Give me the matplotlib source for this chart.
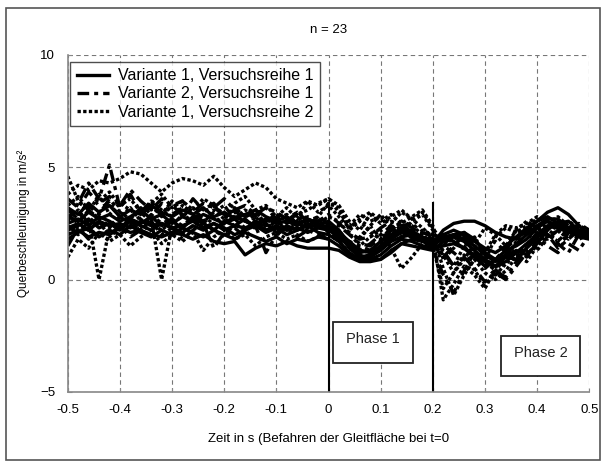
import numpy as np
import matplotlib
matplotlib.use("Agg")
import matplotlib.pyplot as plt
from matplotlib.patches import Rectangle

plt.rcParams['font.family'] = ['Liberation Sans', 'DejaVu Sans']

# ---------------------------------------------------------------------------
# data read off the scan (sampled every 0.02 s)
# ---------------------------------------------------------------------------
t = np.round(np.arange(-0.5, 0.5001, 0.02), 2)

# Variante 1, Versuchsreihe 1 (solid)
v1r1 = [
    [2.3, 2.5, 2.2, 2.6, 2.4, 2.5, 2.3, 2.6, 2.4, 2.5, 2.3, 2.4, 2.6, 2.3, 2.5, 2.2, 2.4, 2.3, 2.5, 2.2, 2.4,
     2.2, 2.3, 2.1, 2.3, 2.2, 1.9, 1.5, 1.1, 0.9, 0.9, 1.2, 1.6, 1.8, 1.7, 1.6,
     2.2, 2.5, 2.6, 2.6, 2.4, 2.1, 1.9, 1.8, 2.2, 2.6, 3.0, 3.2, 2.9, 2.4, 1.9],
    [2.0, 2.2, 1.9, 2.1, 2.0, 2.3, 2.1, 2.2, 2.0, 1.9, 2.1, 2.0, 1.8, 2.0, 1.7, 1.6, 1.7, 1.1, 1.4, 1.6, 1.5,
     1.7, 1.5, 1.4, 1.4, 1.4, 1.3, 1.0, 0.8, 0.8, 0.9, 1.3, 1.6, 1.5, 1.4, 1.3,
     1.7, 1.9, 1.7, 1.3, 0.9, 0.6, 1.0, 1.3, 1.1, 1.6, 2.2, 2.6, 2.3, 2.0, 1.9],
    [2.8, 2.6, 3.0, 2.7, 2.9, 2.6, 2.8, 3.1, 2.7, 2.9, 2.5, 2.8, 2.6, 2.9, 2.7, 2.5, 2.8, 2.6, 2.4, 2.7, 2.5,
     2.6, 2.4, 2.7, 2.5, 2.3, 2.0, 1.4, 1.0, 1.1, 1.4, 1.8, 2.1, 1.9, 1.8, 1.5,
     1.9, 2.0, 1.8, 1.5, 1.1, 0.8, 1.0, 0.9, 1.4, 1.9, 2.3, 2.5, 2.6, 2.2, 2.0],
    [2.2, 2.4, 2.7, 2.3, 2.5, 2.2, 2.6, 2.4, 2.2, 2.5, 2.3, 2.1, 2.4, 2.2, 2.5, 2.3, 2.0, 2.2, 2.4, 2.1, 2.3,
     2.0, 2.2, 2.4, 2.1, 2.0, 1.7, 1.2, 0.9, 1.0, 1.3, 1.7, 1.9, 2.0, 1.7, 1.6,
     1.8, 2.0, 2.1, 1.8, 1.2, 0.9, 1.1, 1.6, 2.0, 2.4, 2.7, 2.7, 2.3, 2.1, 2.0],
    [3.2, 2.9, 3.4, 3.0, 3.3, 2.8, 3.1, 2.9, 3.3, 3.0, 2.8, 3.1, 2.9, 3.2, 2.8, 3.0, 2.7, 2.9, 3.1, 2.8, 2.6,
     2.8, 2.5, 2.7, 2.4, 2.6, 2.2, 1.6, 1.2, 1.3, 1.7, 2.0, 2.3, 2.1, 1.9, 1.7,
     2.0, 1.7, 1.4, 1.0, 0.6, 0.9, 1.3, 1.5, 1.8, 2.3, 2.6, 2.4, 2.2, 1.9, 1.8],
    [2.5, 2.7, 2.4, 2.8, 2.6, 2.3, 2.7, 2.5, 2.8, 2.4, 2.6, 2.3, 2.7, 2.5, 2.2, 2.6, 2.4, 2.7, 2.3, 2.5, 2.1,
     2.4, 2.2, 2.5, 2.3, 2.4, 2.1, 1.7, 1.3, 1.2, 1.5, 1.9, 2.2, 2.0, 1.8, 1.5,
     2.0, 2.2, 2.0, 1.7, 1.4, 1.2, 1.5, 1.9, 2.3, 2.6, 2.8, 2.5, 2.3, 2.1, 1.9],
    [1.8, 2.1, 2.3, 1.9, 2.2, 2.0, 2.4, 2.1, 1.9, 2.2, 2.0, 2.3, 2.1, 1.9, 2.2, 2.0, 1.8, 2.1, 1.9, 1.7, 1.9,
     1.6, 1.8, 1.7, 1.9, 1.8, 1.5, 1.1, 0.9, 0.9, 1.1, 1.5, 1.8, 1.7, 1.5, 1.4,
     1.5, 1.6, 1.4, 1.1, 0.8, 0.6, 0.8, 1.2, 1.6, 2.0, 2.4, 2.3, 2.1, 2.0, 1.9],
]

# Variante 2, Versuchsreihe 1 (dash-dot)
v2r1 = [
    [2.6, 3.4, 4.3, 3.6, 5.1, 3.2, 3.8, 3.0, 3.5, 2.8, 3.3, 2.9, 3.6, 3.1, 3.4, 2.7, 3.2, 2.8, 3.0, 2.6, 2.9,
     2.5, 2.8, 2.4, 2.7, 2.3, 2.1, 1.6, 1.3, 1.6, 2.0, 2.4, 2.0, 2.2, 1.8, 1.4,
     0.2, -0.6, 0.4, 1.2, 0.6, 0.2, 0.9, 1.4, 1.0, 1.8, 2.2, 1.6, 1.2, 2.0, 2.1],
    [1.5, 2.3, 1.8, 2.6, 2.0, 2.4, 1.9, 2.2, 2.6, 2.0, 2.3, 1.8, 2.2, 2.5, 1.4, 2.1, 2.3, 1.9, 2.4, 1.2, 2.0,
     2.3, 1.9, 2.2, 2.0, 1.8, 1.9, 1.7, 1.5, 1.3, 1.6, 2.2, 2.5, 2.1, 1.7, 1.5,
     1.0, 1.5, 1.9, 1.4, 0.8, 0.4, 0.1, 0.8, 1.4, 1.9, 1.5, 1.2, 2.1, 2.4, 2.0],
    [3.6, 3.2, 3.9, 3.4, 3.7, 3.3, 4.0, 3.5, 3.1, 3.6, 3.3, 3.5, 3.0, 3.4, 3.2, 3.6, 3.1, 3.3, 2.9, 3.2, 3.0,
     2.7, 3.0, 2.6, 2.8, 2.5, 2.4, 2.0, 1.6, 1.5, 1.8, 2.3, 2.6, 2.3, 2.0, 1.8,
     1.3, 0.6, 1.0, 0.5, -0.1, 0.3, 0.0, 0.6, 1.2, 1.7, 2.0, 1.4, 1.8, 2.2, 2.1],
    [2.9, 2.5, 3.1, 2.7, 2.4, 2.8, 2.6, 2.3, 2.9, 2.5, 2.7, 2.4, 2.8, 2.6, 2.2, 2.5, 2.7, 2.3, 2.6, 2.4, 2.7,
     2.3, 2.6, 2.2, 2.5, 2.1, 1.8, 1.5, 1.3, 1.2, 1.5, 1.9, 2.2, 2.0, 1.9, 1.7,
     1.5, 1.2, 0.8, 1.1, 0.5, 0.9, 1.4, 1.8, 2.1, 2.4, 2.0, 1.7, 2.3, 2.5, 2.2],
    [3.1, 2.7, 3.3, 2.9, 3.6, 3.0, 2.7, 3.2, 2.8, 3.4, 2.9, 3.2, 2.7, 3.0, 3.3, 2.8, 3.1, 2.6, 2.9, 3.2, 2.7,
     2.9, 2.5, 2.8, 2.6, 2.9, 2.5, 2.1, 1.8, 1.9, 2.3, 2.6, 2.4, 2.5, 2.1, 1.9,
     1.6, 1.9, 1.5, 0.9, 1.3, 1.7, 1.2, 0.8, 1.5, 2.1, 1.8, 2.2, 1.6, 1.3, 2.0],
]

# Variante 1, Versuchsreihe 2 (dotted)
v1r2 = [
    [3.8, 4.2, 4.0, 4.4, 4.3, 4.5, 4.8, 4.7, 4.3, 3.9, 4.3, 4.5, 4.4, 4.2, 4.6, 4.1, 3.7, 4.0, 4.3, 4.1, 3.6,
     3.4, 3.2, 3.5, 3.3, 3.6, 3.0, 2.4, 2.9, 2.6, 2.8, 2.5, 3.0, 2.7, 3.0, 2.3,
     1.6, 1.8, 2.1, 1.5, 1.2, 2.0, 2.4, 2.3, 2.5, 2.8, 2.6, 2.3, 2.5, 2.2, 2.1],
    [2.4, 2.0, 2.6, 0.0, 2.3, 2.8, 2.5, 2.2, 2.7, 0.0, 2.4, 2.9, 2.6, 2.3, 2.8, 2.5, 3.0, 2.6, 2.4, 2.7, 2.3,
     2.6, 2.9, 3.1, 3.4, 3.6, 3.3, 2.6, 2.2, 2.9, 2.5, 2.8, 3.1, 2.7, 2.3, 1.9,
     -0.9, -0.2, 0.6, 0.2, -0.4, 0.5, 1.3, 2.2, 2.0, 1.7, 2.3, 2.6, 2.1, 2.3, 2.0],
    [1.0, 1.8, 1.4, 2.1, 1.7, 2.0, 1.5, 1.9, 2.2, 1.6, 2.0, 1.7, 2.1, 1.3, 1.9, 2.2, 1.8, 2.0, 1.5, 1.9, 2.1,
     1.8, 2.0, 1.7, 1.9, 2.1, 1.7, 1.2, 1.5, 1.9, 2.2, 1.4, 0.5, 1.0, 1.6, 1.5,
     -0.4, 0.3, 1.1, 0.4, -0.2, 0.2, 0.7, 1.1, 0.8, 1.5, 2.0, 1.7, 2.2, 2.4, 2.1],
    [3.3, 3.7, 3.1, 3.5, 3.9, 3.3, 3.6, 3.0, 3.4, 3.8, 3.2, 3.5, 3.1, 3.6, 3.3, 2.9, 3.4, 3.7, 3.1, 3.3, 2.8,
     3.2, 2.7, 3.5, 3.0, 3.3, 2.8, 2.3, 2.7, 3.0, 2.6, 2.9, 2.5, 2.8, 3.1, 2.4,
     0.9, 1.4, 2.0, 1.2, 0.8, 1.9, 2.3, 2.1, 2.4, 2.7, 2.5, 2.8, 2.4, 2.3, 2.1],
    [4.6, 3.5, 3.0, 3.8, 2.9, 3.4, 3.1, 2.7, 3.2, 2.9, 3.5, 2.8, 3.2, 2.6, 3.0, 3.3, 2.7, 3.1, 2.8, 2.5, 2.9,
     2.6, 2.9, 2.4, 2.8, 3.4, 3.2, 2.2, 2.6, 2.1, 1.8, 2.2, 2.6, 2.4, 2.0, 1.6,
     1.1, 0.3, 0.9, 1.6, 2.3, 2.0, 1.5, 2.2, 2.6, 2.3, 1.9, 2.5, 2.2, 1.8, 2.0],
    [2.7, 3.1, 2.5, 3.0, 3.4, 2.8, 3.2, 2.6, 3.5, 3.1, 2.8, 3.3, 2.9, 2.5, 3.1, 2.7, 3.2, 2.8, 3.0, 2.5, 2.9,
     2.6, 3.0, 2.7, 2.5, 2.8, 2.6, 2.0, 1.8, 2.4, 2.9, 2.3, 2.0, 2.6, 2.9, 2.2,
     1.2, 0.6, 1.5, 1.9, 1.0, 0.4, 1.0, 1.7, 2.3, 2.1, 2.5, 2.2, 2.6, 2.3, 2.0],
    [2.0, 2.4, 2.2, 2.6, 1.9, 2.3, 2.7, 2.1, 2.5, 2.2, 2.6, 2.0, 2.4, 2.7, 2.2, 1.9, 2.5, 2.2, 2.8, 2.3, 2.6,
     2.2, 2.5, 2.3, 2.6, 2.4, 2.2, 1.5, 1.9, 2.4, 1.7, 2.1, 2.4, 1.8, 2.2, 2.0,
     0.5, -0.7, 0.2, 0.9, 0.3, 0.0, 0.4, 1.0, 1.6, 1.3, 1.9, 2.2, 1.8, 2.4, 2.2],
]

series_labels = ["Variante 1, Versuchsreihe 1",
                 "Variante 2, Versuchsreihe 1",
                 "Variante 1, Versuchsreihe 2"]

x_ticks = [-0.5, -0.4, -0.3, -0.2, -0.1, 0, 0.1, 0.2, 0.3, 0.4, 0.5]
x_ticklabels = ["-0.5", "-0.4", "-0.3", "-0.2", "-0.1", "0", "0.1", "0.2", "0.3", "0.4", "0.5"]
y_ticks = [-5, 0, 5, 10]

# phase markers
phase_bounds = [0.0, 0.2]
phase_line_top = 3.4
phase_names = ["Phase 1", "Phase 2"]
phase_box_x = [(0.008, 0.162), (0.331, 0.483)]
phase_box_y = [(-3.7, -1.9), (-4.3, -2.5)]

# ---------------------------------------------------------------------------
fig = plt.figure(figsize=(6.05, 4.66), dpi=100)
ax = fig.add_axes([0.112, 0.159, 0.862, 0.723])

# outer frame of the scanned figure
fig.patches.append(Rectangle((0.010, 0.013), 0.982, 0.970, transform=fig.transFigure,
                             fill=False, edgecolor="#555555", linewidth=1.2))

styles = ["-", (0, (3.5, 1.5, 1.2, 1.5)), (0, (1, 0.7))]
groups = [v1r1, v2r1, v1r2]
for grp, ls, lab in zip(groups, styles, series_labels):
    for k, y in enumerate(grp):
        ax.plot(t, y, color="black", linestyle=ls, linewidth=2.4,
                label=lab if k == 0 else None)

# phase lines
for xb in phase_bounds:
    ax.plot([xb, xb], [-5, phase_line_top], color="black", linewidth=1.5)

for name, (x0, x1), (y0, y1) in zip(phase_names, phase_box_x, phase_box_y):
    ax.add_patch(Rectangle((x0, y0), x1 - x0, y1 - y0, facecolor="white",
                           edgecolor="#222222", linewidth=1.3, zorder=5))
    ax.text((x0 + x1) / 2, (y0 + y1) / 2 + 0.15, name, ha="center", va="center",
            fontsize=10.5, zorder=6, color="#222222")

ax.set_xlim(-0.5, 0.5)
ax.set_ylim(-5, 10)
ax.set_xticks(x_ticks)
ax.set_xticklabels(x_ticklabels)
ax.set_yticks(y_ticks)
ax.tick_params(direction="in", length=3, color="#888888", labelsize=9.5, pad=9)

ax.grid(True, color="#777777", linestyle=(0, (4, 3)), linewidth=0.8)
ax.set_axisbelow(True)
for side in ["top", "right"]:
    ax.spines[side].set_visible(False)
for side in ["left", "bottom"]:
    ax.spines[side].set_color("#888888")
    ax.spines[side].set_linewidth(1.2)

ax.set_title("n = 23", fontsize=9.5, pad=16)
ax.set_xlabel("Zeit in s (Befahren der Gleitfläche bei t=0", fontsize=9.5, labelpad=12)
ax.set_ylabel("Querbeschleunigung in m/s²", fontsize=8.5, labelpad=7)

leg = ax.legend(loc="upper left", bbox_to_anchor=(0.005, 0.98), fontsize=11.5,
                frameon=True, fancybox=False, edgecolor="#222222", handlelength=2.0,
                borderpad=0.4, labelspacing=0.2, handletextpad=0.6, borderaxespad=0)
leg.get_frame().set_linewidth(1.0)

fig.savefig("out.png", dpi=100)
